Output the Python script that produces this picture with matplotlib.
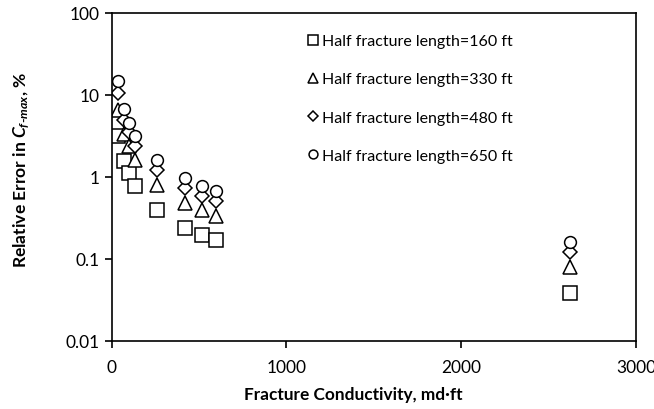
import matplotlib
matplotlib.use('Agg')
import matplotlib.pyplot as plt

plt.rcParams['font.family'] = ['Lato', 'DejaVu Sans']
plt.rcParams['mathtext.fontset'] = 'custom'
plt.rcParams['mathtext.it'] = 'Lato:italic:bold'
plt.rcParams['mathtext.rm'] = 'Lato:bold'

# fracture conductivity, md·ft
conductivity = [35, 70, 100, 135, 260, 420, 520, 600, 2620]
# relative error in Cf-max, %
err_160 = [3.2, 1.57, 1.12, 0.78, 0.40, 0.24, 0.195, 0.17, 0.038]
err_330 = [6.6, 3.3, 2.4, 1.6, 0.80, 0.48, 0.39, 0.33, 0.08]
err_480 = [10.5, 4.9, 3.5, 2.4, 1.2, 0.74, 0.59, 0.51, 0.12]
err_650 = [14.8, 6.8, 4.6, 3.2, 1.6, 0.98, 0.78, 0.68, 0.16]
labels = ['Half fracture length=160 ft', 'Half fracture length=330 ft',
          'Half fracture length=480 ft', 'Half fracture length=650 ft']

fig = plt.figure(figsize=(6.54, 4.10), dpi=100)
ax = fig.add_axes([0.1705, 0.166, 0.802, 0.800])

series = [(err_160, 's', 9.5), (err_330, '^', 9.5), (err_480, 'D', 7.0), (err_650, 'o', 8.5)]
for (ys, m, ms), lab in zip(series, labels):
    ax.plot(conductivity, ys, ls='none', marker=m, ms=ms, mfc='white', mec='black',
            mew=1.1, label=lab)

ax.set_yscale('log')
ax.set_ylim(0.01, 100)
ax.set_xlim(0, 3000)
ax.set_xticks([0, 1000, 2000, 3000])
ax.set_yticks([0.01, 0.1, 1, 10, 100])
ax.set_yticklabels(['0.01', '0.1', '1', '10', '100'])
ax.minorticks_off()
ax.tick_params(axis='both', labelsize=12.5, length=5, width=1.2, direction='out')
ax.tick_params(axis='x', pad=8)
for s in ax.spines.values():
    s.set_linewidth(1.2)

ax.set_xlabel('Fracture Conductivity, md·ft', fontsize=12.4, fontweight='bold', va='center')
ax.set_ylabel(r'Relative Error in $C_{f\text{-}max}$, %', fontsize=12.6, fontweight='bold',
              va='center')
ax.xaxis.set_label_coords(0.46, -0.162)
ax.yaxis.set_label_coords(-0.1705, 0.524)

leg = ax.legend(loc='upper left', bbox_to_anchor=(0.362, 0.955), frameon=False, fontsize=11.5,
                markerscale=0.75, handlelength=0.6, handletextpad=0.3, labelspacing=1.5,
                borderaxespad=0)

fig.savefig('out.png', dpi=100)
